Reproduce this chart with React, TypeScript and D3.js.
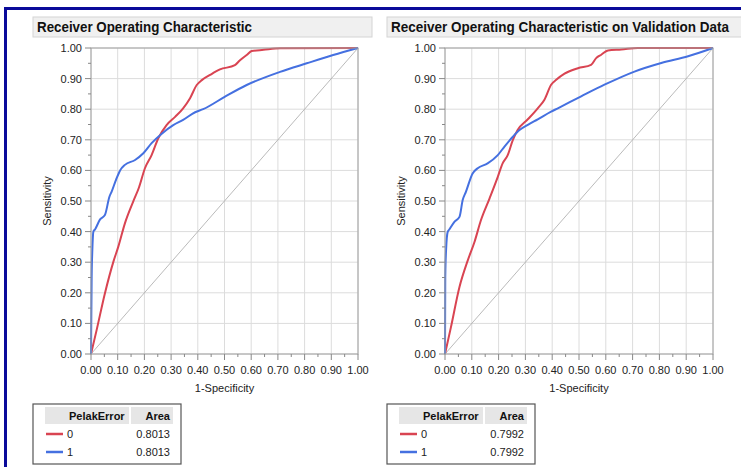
import * as d3 from "d3";

// ROC points: [1-specificity, sensitivity]
const trainRed: [number, number][] = [
  [0, 0], [0.021, 0.078], [0.052, 0.198], [0.084, 0.302], [0.102, 0.35], [0.127, 0.427],
  [0.158, 0.498], [0.18, 0.545], [0.202, 0.607], [0.227, 0.65], [0.252, 0.705], [0.283, 0.748],
  [0.315, 0.775], [0.345, 0.803], [0.371, 0.836], [0.396, 0.879], [0.415, 0.895], [0.446, 0.912],
  [0.483, 0.93], [0.539, 0.944], [0.558, 0.96], [0.583, 0.977], [0.602, 0.99], [0.646, 0.994],
  [0.708, 0.999], [1, 1],
];
const trainBlue: [number, number][] = [
  [0, 0], [0.0025, 0.253], [0.005, 0.34], [0.009, 0.4], [0.015, 0.407], [0.034, 0.44],
  [0.052, 0.454], [0.069, 0.514], [0.077, 0.53], [0.094, 0.57], [0.109, 0.6], [0.127, 0.618],
  [0.165, 0.634], [0.196, 0.656], [0.227, 0.689], [0.265, 0.72], [0.308, 0.748], [0.345, 0.765],
  [0.39, 0.79], [0.42, 0.8], [0.502, 0.841], [0.583, 0.879], [0.708, 0.922], [0.808, 0.95],
  [0.907, 0.977], [1, 1],
];
const validRed: [number, number][] = [
  [0, 0], [0.022, 0.087], [0.054, 0.219], [0.085, 0.306], [0.11, 0.366], [0.134, 0.437],
  [0.166, 0.508], [0.197, 0.579], [0.215, 0.623], [0.234, 0.65], [0.253, 0.699], [0.271, 0.732],
  [0.309, 0.767], [0.346, 0.803], [0.371, 0.831], [0.396, 0.88], [0.415, 0.896], [0.446, 0.916],
  [0.496, 0.934], [0.545, 0.945], [0.564, 0.967], [0.583, 0.978], [0.608, 0.992], [0.658, 0.995],
  [0.72, 1], [1, 1],
];
const validBlue: [number, number][] = [
  [0, 0], [0.001, 0.251], [0.004, 0.339], [0.01, 0.399], [0.016, 0.407], [0.035, 0.432],
  [0.054, 0.448], [0.066, 0.503], [0.078, 0.53], [0.103, 0.59], [0.122, 0.607], [0.159, 0.623],
  [0.197, 0.65], [0.222, 0.678], [0.253, 0.71], [0.278, 0.732], [0.309, 0.749], [0.346, 0.767],
  [0.396, 0.792], [0.421, 0.803], [0.508, 0.842], [0.595, 0.88], [0.707, 0.923], [0.807, 0.951],
  [0.907, 0.973], [1, 1],
];

const groups = ["0", "1"];
const trainArea = ["0.8013", "0.8013"];
const validArea = ["0.7992", "0.7992"];

const RED = "#d94452";
const BLUE = "#4570e0";
const FONT = "'Liberation Sans', Arial, sans-serif";

function Panel({ left, plotW, title, titleW, titleLen, red, blue, areas }) {
  const x = d3.scaleLinear().domain([0, 1]).range([left + 58, left + 58 + plotW]);
  const y = d3.scaleLinear().domain([0, 1]).range([354, 48]);
  const major = x.ticks(10);
  const minor = x.ticks(20).filter((t) => !major.some((m) => Math.abs(m - t) < 1e-9));
  const line = d3.line<[number, number]>().x((d) => x(d[0])).y((d) => y(d[1])).curve(d3.curveMonotoneX);
  const [x0, x1] = x.range();
  const [y0, y1] = y.range();
  const lx = left;
  return (
    <g fontFamily={FONT}>
      <rect x={left} y={17} width={titleW} height={20} fill="#f0f0f0" stroke="#d4d4d4" />
      <text x={left + 4} y={32} fontSize={14} fontWeight="bold" fill="#111"
        textLength={titleLen} lengthAdjust="spacingAndGlyphs">{title}</text>

      {major.map((t) => (
        <g key={"g" + t}>
          <line x1={x(t)} x2={x(t)} y1={y1} y2={y0} stroke="#dcdcdc" />
          <line x1={x0} x2={x1} y1={y(t)} y2={y(t)} stroke="#dcdcdc" />
        </g>
      ))}
      <line x1={x0} x2={x1} y1={y0} y2={y1} stroke="#a8a8a8" strokeWidth={0.8} />
      <path d={line(red) || ""} fill="none" stroke={RED} strokeWidth={2} />
      <path d={line(blue) || ""} fill="none" stroke={BLUE} strokeWidth={2} />
      <rect x={x0} y={y1} width={x1 - x0} height={y0 - y1} fill="none" stroke="#a0a0a0" />

      {major.map((t) => (
        <g key={"t" + t} fontSize={11} fill="#222">
          <line x1={x0 - 6} x2={x0} y1={y(t)} y2={y(t)} stroke="#888" />
          <line x1={x(t)} x2={x(t)} y1={y0} y2={y0 + 6} stroke="#888" />
          <text x={x0 - 9} y={y(t)} textAnchor="end" dominantBaseline="central">{t.toFixed(2)}</text>
          <text x={x(t)} y={y0 + 20} textAnchor="middle">{t.toFixed(2)}</text>
        </g>
      ))}
      {minor.map((t) => (
        <g key={"m" + t}>
          <line x1={x0 - 3} x2={x0} y1={y(t)} y2={y(t)} stroke="#888" />
          <line x1={x(t)} x2={x(t)} y1={y0} y2={y0 + 3} stroke="#888" />
        </g>
      ))}
      <text x={(x0 + x1) / 2} y={392} textAnchor="middle" fontSize={11} fill="#222">1-Specificity</text>
      <text transform={`translate(${left + 18},${(y0 + y1) / 2}) rotate(-90)`} textAnchor="middle" fontSize={11} fill="#222">Sensitivity</text>

      <rect x={lx} y={404} width={148} height={60} fill="#fff" stroke="#555" strokeWidth={1.2} />
      <rect x={lx + 12} y={407} width={84} height={17} fill="#e6e6e6" />
      <rect x={lx + 98} y={407} width={42} height={17} fill="#e6e6e6" />
      <text x={lx + 36} y={420} fontSize={11} fontWeight="bold" fill="#111">PelakError</text>
      <text x={lx + 137} y={420} fontSize={11} fontWeight="bold" fill="#111" textAnchor="end">Area</text>
      {groups.map((g, i) => (
        <g key={g}>
          <line x1={lx + 13} x2={lx + 30} y1={434 + i * 18} y2={434 + i * 18} stroke={i === 0 ? RED : BLUE} strokeWidth={2.5} />
          <text x={lx + 34} y={438 + i * 18} fontSize={11} fill="#222">{g}</text>
          <text x={lx + 137} y={438 + i * 18} fontSize={11} fill="#222" textAnchor="end">{areas[i]}</text>
        </g>
      ))}
    </g>
  );
}

export default function App() {
  return (
    <svg width={741} height={467} style={{ position: "absolute", left: 0, top: 0, background: "#fff" }}>
      <rect x={0} y={0} width={741} height={467} fill="#fff" />
      <line x1={5} x2={741} y1={8.5} y2={8.5} stroke="#0a0a9a" strokeWidth={3} />
      <line x1={5.5} x2={5.5} y1={7} y2={467} stroke="#0a0a9a" strokeWidth={3} />
      <Panel left={33} plotW={267} title="Receiver Operating Characteristic" titleW={339} titleLen={215}
        red={trainRed} blue={trainBlue} areas={trainArea} />
      <Panel left={387} plotW={268} title="Receiver Operating Characteristic on Validation Data" titleW={360} titleLen={338}
        red={validRed} blue={validBlue} areas={validArea} />
    </svg>
  );
}
